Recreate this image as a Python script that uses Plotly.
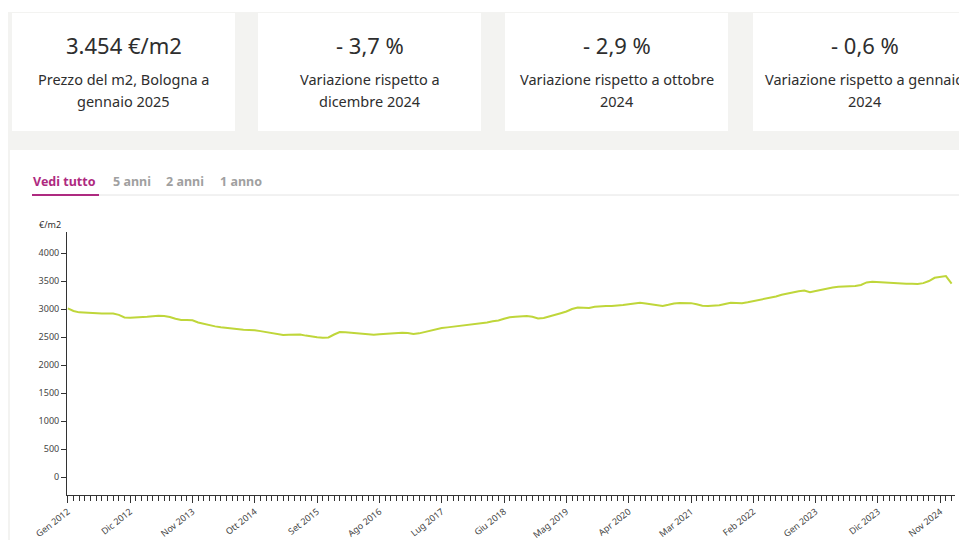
import plotly.graph_objects as go

# ---------------- data ----------------
prices = [
    # 2012
    3010, 2965, 2940, 2932, 2925, 2922, 2920, 2918, 2920, 2895, 2850, 2842,
    # 2013
    2845, 2848, 2860, 2870, 2880, 2875, 2858, 2825, 2805, 2805, 2800, 2760,
    # 2014
    2735, 2712, 2690, 2675, 2660, 2650, 2635, 2628, 2625, 2622, 2605, 2585,
    # 2015
    2570, 2550, 2535, 2540, 2548, 2545, 2525, 2505, 2495, 2488, 2492, 2545,
    # 2016
    2590, 2585, 2575, 2565, 2555, 2540, 2540, 2548, 2558, 2565, 2572, 2578,
    # 2017
    2570, 2555, 2565, 2590, 2615, 2640, 2660, 2672, 2685, 2695, 2705, 2715,
    # 2018
    2725, 2740, 2758, 2780, 2795, 2825, 2852, 2862, 2870, 2875, 2860, 2830,
    # 2019
    2840, 2865, 2895, 2925, 2955, 3000, 3025, 3022, 3020, 3040, 3052, 3055,
    # 2020
    3052, 3055, 3070, 3085, 3105, 3112, 3100, 3088, 3070, 3055, 3075, 3100,
    # 2021
    3108, 3113, 3105, 3085, 3060, 3055, 3060, 3066, 3090, 3113, 3108, 3102,
    # 2022
    3120, 3140, 3155, 3175, 3195, 3225, 3255, 3280, 3300, 3318, 3330, 3300,
    # 2023
    3320, 3345, 3370, 3385, 3398, 3402, 3405, 3410, 3430, 3475, 3488, 3480,
    # 2024
    3475, 3465, 3455, 3448, 3450, 3452, 3446, 3462, 3500, 3557, 3578, 3587,
    # 2025
    3454,
]
month_index = list(range(len(prices)))

x_tick_positions = [0, 11, 22, 33, 44, 55, 66, 77, 88, 99, 110, 121, 132, 143, 154]
x_tick_labels = ["Gen 2012", "Dic 2012", "Nov 2013", "Ott 2014", "Set 2015",
                 "Ago 2016", "Lug 2017", "Giu 2018", "Mag 2019", "Apr 2020",
                 "Mar 2021", "Feb 2022", "Gen 2023", "Dic 2023", "Nov 2024"]
y_tick_values = [0, 500, 1000, 1500, 2000, 2500, 3000, 3500, 4000]
y_tick_labels = ["0", "500", "1000", "1500", "2000", "2500", "3000", "3500", "4000"]

card_values = ["3.454 €/m2", "- 3,7 %", "- 2,9 %", "- 0,6 %"]
card_line1 = ["Prezzo del m2, Bologna a", "Variazione rispetto a",
              "Variazione rispetto a ottobre", "Variazione rispetto a gennaio"]
card_line2 = ["gennaio 2025", "dicembre 2024", "2024", "2024"]
tabs = ["Vedi tutto", "5 anni", "2 anni", "1 anno"]
y_title = "€/m2"

# ---------------- layout helpers (reference pixel -> paper) ----------------
W, H = 959, 540
L, R, T, B = 67, 4, 232, 540 - 495
PW = W - L - R
PH = H - T - B


def px(x):
    return (x - L) / PW


def py(y):
    return (H - B - y) / PH


FONT = "Noto Sans"
MAGENTA = "#ae2a80"
TXT = "#2e2e2e"
GRAY_BG = "#f3f3f1"

fig = go.Figure()
fig.add_trace(go.Scatter(
    x=month_index, y=prices, mode="lines",
    line=dict(color="#bfd63a", width=2),
    hoverinfo="skip", showlegend=False,
))

shapes = []
annotations = []

# gray band behind the cards
shapes.append(dict(type="rect", xref="paper", yref="paper", layer="below",
                   x0=px(8), x1=px(965), y0=py(150), y1=py(12),
                   fillcolor=GRAY_BG, line=dict(width=0)))
# thin gray strip at left of chart card
shapes.append(dict(type="rect", xref="paper", yref="paper", layer="below",
                   x0=px(8), x1=px(10), y0=py(545), y1=py(150),
                   fillcolor=GRAY_BG, line=dict(width=0)))

card_x0 = [12, 258, 505, 753]
card_w = 223
for i in range(4):
    x0 = card_x0[i]
    cx = x0 + card_w / 2
    shapes.append(dict(type="rect", xref="paper", yref="paper", layer="below",
                       x0=px(x0), x1=px(x0 + card_w), y0=py(131), y1=py(13),
                       fillcolor="white", line=dict(width=0)))
    annotations.append(dict(x=px(cx), y=py(45), xref="paper", yref="paper",
                            text=card_values[i], showarrow=False,
                            xanchor="center", yanchor="middle",
                            font=dict(family=FONT, size=22, color=TXT)))
    annotations.append(dict(x=px(cx), y=py(79), xref="paper", yref="paper",
                            text=card_line1[i], showarrow=False,
                            xanchor="center", yanchor="middle",
                            font=dict(family=FONT, size=14.5, color=TXT)))
    annotations.append(dict(x=px(cx), y=py(101), xref="paper", yref="paper",
                            text=card_line2[i], showarrow=False,
                            xanchor="center", yanchor="middle",
                            font=dict(family=FONT, size=14.5, color=TXT)))

# tabs
tab_x = [31, 111, 164, 218]
for i, t in enumerate(tabs):
    annotations.append(dict(x=px(tab_x[i]), y=py(182), xref="paper", yref="paper",
                            text="<b>" + t + "</b>", showarrow=False,
                            xanchor="left", yanchor="middle",
                            font=dict(family=FONT, size=12.5,
                                      color=MAGENTA if i == 0 else "#a0a0a0")))
shapes.append(dict(type="line", xref="paper", yref="paper",
                   x0=px(99), x1=px(965), y0=py(195), y1=py(195),
                   line=dict(color="#e4e4e4", width=1)))
shapes.append(dict(type="line", xref="paper", yref="paper",
                   x0=px(32), x1=px(99), y0=py(195), y1=py(195),
                   line=dict(color=MAGENTA, width=2)))

# y-axis title
annotations.append(dict(x=px(37), y=py(224), xref="paper", yref="paper",
                        text=y_title, showarrow=False,
                        xanchor="left", yanchor="middle",
                        font=dict(family=FONT, size=9, color=TXT)))

fig.update_layout(
    width=W, height=H,
    margin=dict(l=L, r=R, t=T, b=B, autoexpand=False),
    paper_bgcolor="white", plot_bgcolor="white",
    shapes=shapes, annotations=annotations,
    showlegend=False,
    font=dict(family=FONT, color=TXT),
)

fig.update_xaxes(
    range=[-0.15, 156.6],
    showgrid=False, zeroline=False,
    showline=True, linecolor="#333333", linewidth=1,
    tickmode="array", tickvals=x_tick_positions, ticktext=x_tick_labels,
    ticks="outside", ticklen=7, tickwidth=1.3, tickcolor="#333333",
    tickangle=-38,
    tickfont=dict(family=FONT, size=9, color="#444444"),
    minor=dict(ticks="outside", ticklen=5, tickwidth=1, tickcolor="#333333",
               tickmode="linear", tick0=0, dtick=1, showgrid=False),
)
fig.update_yaxes(
    range=[-321, 4375],
    showgrid=False, zeroline=False,
    showline=True, linecolor="#333333", linewidth=1,
    tickmode="array", tickvals=y_tick_values, ticktext=y_tick_labels,
    ticks="outside", ticklen=5, tickcolor="#333333",
    tickfont=dict(family=FONT, size=9, color="#444444"),
)

fig.write_html(
    "out.html",
    config={"displayModeBar": False},
    post_script="document.body.style.margin='0';document.body.style.overflow='hidden';",
)
